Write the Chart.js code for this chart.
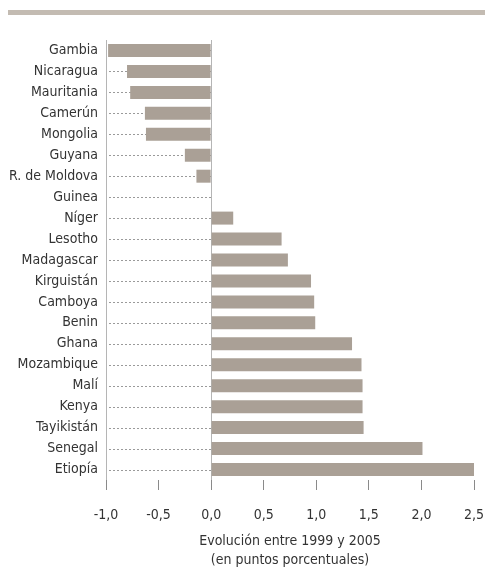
<!DOCTYPE html>
<html>
<head>
<meta charset="utf-8">
<script src="https://cdn.jsdelivr.net/npm/chart.js@4"></script>
<style>
  body { margin: 0; background: #fff; }
  .wrap { position: relative; width: 485px; height: 569px; }
  .topbar { position: absolute; top: 10px; left: 8px; right: 0; height: 5px; background: #c3bbb2; }
</style>
</head>
<body>
<div class="wrap">
  <div class="topbar"></div>
  <canvas id="mychart" width="485" height="569"></canvas>
</div>
<script>
const countries = ['Gambia', 'Nicaragua', 'Mauritania', 'Camerún', 'Mongolia', 'Guyana', 'R. de Moldova', 'Guinea', 'Níger', 'Lesotho', 'Madagascar', 'Kirguistán', 'Camboya', 'Benin', 'Ghana', 'Mozambique', 'Malí', 'Kenya', 'Tayikistán', 'Senegal', 'Etiopía'];
const change = [-0.98, -0.80, -0.77, -0.63, -0.62, -0.25, -0.14, 0, 0.21, 0.67, 0.73, 0.95, 0.98, 0.99, 1.34, 1.43, 1.44, 1.44, 1.45, 2.01, 2.50];
const xTicks = [-1, -0.5, 0, 0.5, 1, 1.5, 2, 2.5];
const axisTitle = ['Evolución entre 1999 y 2005', '(en puntos porcentuales)'];

const font = "'Liberation Sans Narrow', 'DejaVu Sans Condensed', sans-serif";

// dotted guide lines from the left axis to zero for each row
const guides = {
    id: 'guides',
    beforeDatasetsDraw(chart) {
        const { ctx, scales: { x, y } } = chart;
        ctx.save();
        ctx.strokeStyle = '#9a9a9a';
        ctx.lineWidth = 1;
        ctx.setLineDash([2, 2]);
        countries.forEach((c, i) => {
            const py = Math.round(y.getPixelForValue(i)) + 0.5;
            ctx.beginPath();
            ctx.moveTo(x.getPixelForValue(xTicks[0]) + 3, py);
            ctx.lineTo(x.getPixelForValue(0), py);
            ctx.stroke();
        });
        ctx.restore();
    }
};

const ctx = document.getElementById('mychart').getContext('2d');
let myChart = new Chart(ctx, {
    type: 'bar',
    data: {
        labels: countries,
        datasets: [{
            data: change,
            backgroundColor: '#aaa096',
            borderWidth: 0,
            categoryPercentage: 1,
            barPercentage: 0.62
        }]
    },
    options: {
        indexAxis: 'y',
        responsive: false,
        animation: false,
        layout: { padding: { top: 40, bottom: 0, left: 0, right: 0 } },
        plugins: { legend: { display: false }, tooltip: { enabled: false } },
        scales: {
            x: {
                min: -1,
                max: 2.5,
                afterBuildTicks: s => { s.ticks = xTicks.map(v => ({ value: v })); },
                afterFit: s => { s.height = 89; s.paddingRight = 11; s.paddingLeft = 0; },
                border: { display: false },
                grid: {
                    color: c => (c.tick && (c.tick.value === 0 || c.tick.value === -1)) ? '#b5b5b5' : 'transparent',
                    tickColor: '#8a8a8a',
                    tickLength: 10,
                    lineWidth: 1
                },
                ticks: {
                    padding: 17,
                    color: '#333',
                    font: { family: font, size: 14 },
                    callback: v => v.toFixed(1).replace('.', ',')
                },
                title: {
                    display: true,
                    text: axisTitle,
                    color: '#333',
                    font: { family: font, size: 14, lineHeight: 1.3 },
                    padding: { top: 0, bottom: 0 }
                }
            },
            y: {
                border: { display: false },
                grid: { display: false, drawTicks: false },
                afterFit: s => { s.width = 106; },
                ticks: {
                    padding: 8,
                    color: '#333',
                    font: { family: font, size: 14 },
                    autoSkip: false
                }
            }
        }
    },
    plugins: [guides]
});
</script>
</body>
</html>
